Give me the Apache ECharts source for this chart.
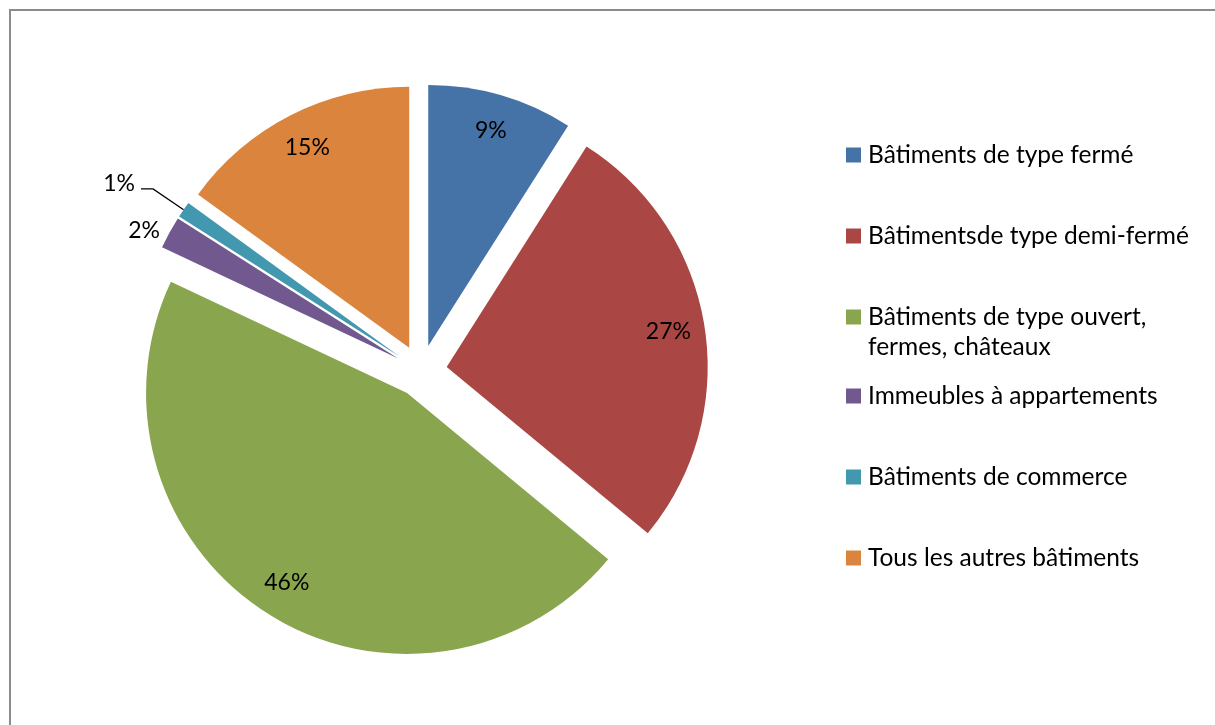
<!DOCTYPE html>
<html>
<head>
<meta charset="utf-8">
<script src="https://cdn.jsdelivr.net/npm/echarts@6/dist/echarts.min.js"></script>
<style>
html,body{margin:0;padding:0;background:#fff;}
#chart{width:1215px;height:725px;}
</style>
</head>
<body>
<div id="chart"></div>
<script>
const categories = [
  "Bâtiments de type fermé",
  "Bâtimentsde type demi-fermé",
  "Bâtiments de type ouvert, fermes, châteaux",
  "Immeubles à appartements",
  "Bâtiments de commerce",
  "Tous les autres bâtiments"
];
const values = [9, 27, 46, 2, 1, 15];
const colors = ["#4572A7", "#AA4643", "#89A54E", "#71588F", "#4198AF", "#DB843D"];
const outsideLabels = [3, 4]; // indices with labels outside the pie

const FONT = "Lato";
const center = [421, 371];
const R = 261;
const OFFSET = 26;

const mainData = categories.map((name, i) => ({
  name: name,
  value: values[i],
  selected: true,
  itemStyle: { color: colors[i] }
}));

const labelData = categories.map((name, i) => {
  const item = { name: name, value: values[i], selected: true };
  if (outsideLabels.indexOf(i) >= 0) {
    item.label = { position: 'outside', distanceToLabelLine: 6 };
    if (i === 4) {
      item.label.formatter = '{up|{c}%}';
      item.label.rich = { up: { fontFamily: FONT, fontSize: 23, color: '#000', padding: [0, 0, 10, 0] } };
      item.labelLine = { show: true, length: 37, length2: 12, lineStyle: { color: '#000', width: 1.3 } };
    } else {
      item.labelLine = { show: false, length: 4, length2: 0 };
    }
  }
  return item;
});

const legendText = { fontFamily: FONT, fontSize: 24.5, color: '#000', lineHeight: 30, padding: [0, 0, 0, 2] };

const chart = echarts.init(document.getElementById('chart'), null, { renderer: 'canvas' });
chart.setOption({
  animation: false,
  color: colors,
  graphic: [{
    type: 'rect',
    shape: { x: 10, y: 10, width: 1230, height: 740 },
    style: { fill: 'none', stroke: '#8c8c8c', lineWidth: 2 },
    silent: true
  }],
  legend: [
    {
      orient: 'vertical', left: 846, top: 140, padding: 0, itemWidth: 15, itemHeight: 15, itemGap: 51,
      icon: 'rect', selectedMode: false, data: [categories[0], categories[1]], textStyle: legendText
    },
    {
      orient: 'vertical', left: 846, top: 272, padding: 0, itemWidth: 15, itemHeight: 15,
      icon: 'rect', selectedMode: false, data: [categories[2]], textStyle: legendText,
      formatter: function () { return "\nBâtiments de type ouvert,\nfermes, châteaux"; }
    },
    {
      orient: 'vertical', left: 846, top: 381, padding: 0, itemWidth: 15, itemHeight: 15, itemGap: 51,
      icon: 'rect', selectedMode: false, data: [categories[3], categories[4], categories[5]], textStyle: legendText
    }
  ],
  series: [
    {
      type: 'pie',
      center: center,
      radius: [0, R],
      startAngle: 90,
      clockwise: true,
      selectedMode: 'multiple',
      selectedOffset: OFFSET,
      avoidLabelOverlap: false,
      silent: true,
      label: { show: false },
      labelLine: { show: false },
      emphasis: { disabled: true },
      itemStyle: { borderWidth: 0 },
      data: mainData
    },
    {
      type: 'pie',
      center: center,
      radius: [182, R],
      startAngle: 90,
      clockwise: true,
      selectedMode: 'multiple',
      selectedOffset: OFFSET,
      avoidLabelOverlap: false,
      silent: true,
      legendHoverLink: false,
      emphasis: { disabled: true },
      itemStyle: { color: 'rgba(0,0,0,0)', borderWidth: 0 },
      label: {
        show: true,
        position: 'inside',
        formatter: '{c}%',
        fontFamily: FONT,
        fontSize: 23,
        color: '#000'
      },
      labelLine: { show: false },
      data: labelData
    }
  ]
});
</script>
</body>
</html>
